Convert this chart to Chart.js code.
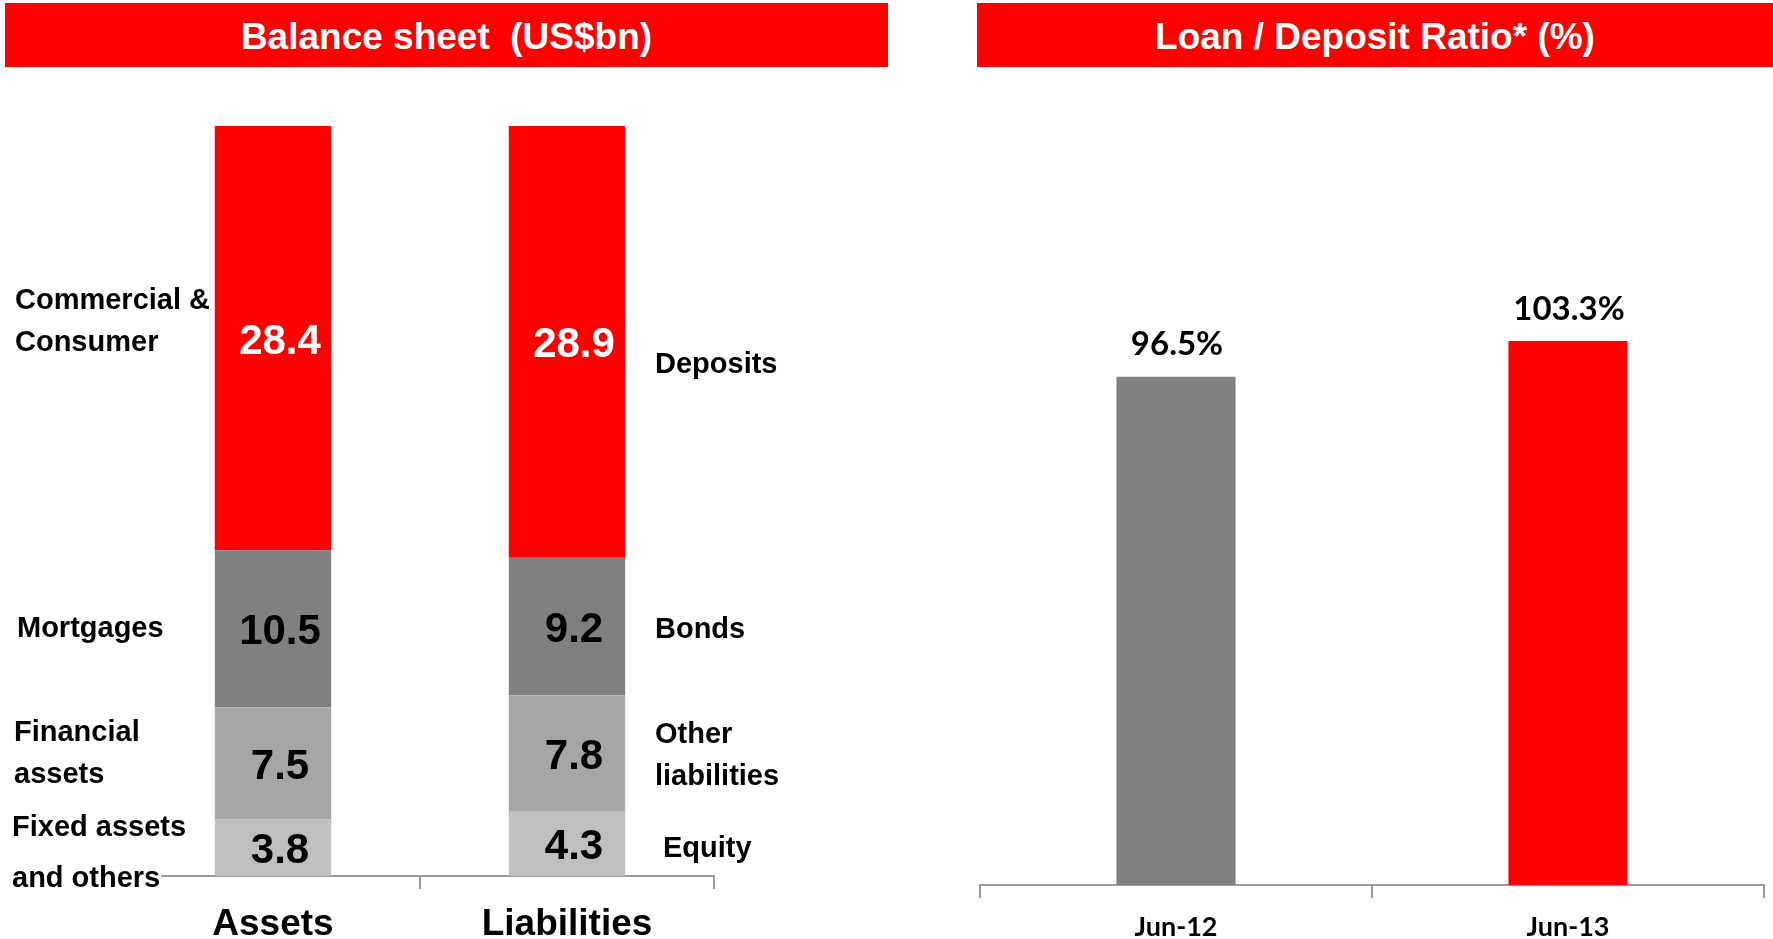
<!DOCTYPE html>
<html>
<head>
<meta charset="utf-8">
<script src="https://cdn.jsdelivr.net/npm/chart.js@4.4.1/dist/chart.umd.min.js"></script>
<style>
  html, body { margin: 0; padding: 0; background: #fff; width: 1773px; height: 939px; overflow: hidden; }
  .banner {
    position: absolute; top: 3px; height: 64px; padding-top: 3px; box-sizing: border-box;
    background: #ff0000; color: #fff;
    font: bold 37px "Liberation Sans", Arial, sans-serif;
    display: flex; align-items: center; justify-content: center; z-index: 2; white-space: pre;
  }
  #wrapL { position: absolute; left: 0; top: 0; width: 940px; height: 939px; }
  #wrapR { position: absolute; left: 940px; top: 0; width: 833px; height: 939px; }
</style>
</head>
<body>
<div class="banner" style="left:5px;width:883px;">Balance sheet  (US$bn)</div>
<div class="banner" style="left:977px;width:796px;">Loan / Deposit Ratio* (%)</div>
<div id="wrapL"><canvas id="bs" width="940" height="939"></canvas></div>
<div id="wrapR"><canvas id="ldr" width="833" height="939"></canvas></div>

<script>
// ---- data ----
const sides = ['Assets', 'Liabilities'];

// stacked bottom-up
const assetItems = [['Fixed assets', 'and others'], ['Financial', 'assets'], ['Mortgages'], ['Commercial &', 'Consumer']];
const assetValues = [3.8, 7.5, 10.5, 28.4];

const liabilityItems = [['Equity'], ['Other', 'liabilities'], ['Bonds'], ['Deposits']];
const liabilityValues = [4.3, 7.8, 9.2, 28.9];

const ratioPeriods = ['Jun-12', 'Jun-13'];
const ratioValues = [96.5, 103.3];

// ---- styling ----
const layerFill = ['#BFBFBF', '#A6A6A6', '#808080', '#FF0000'];
const layerInk = ['#000000', '#000000', '#000000', '#FFFFFF'];
const ratioFill = ['#808080', '#FF0000'];
const axisGrey = '#9a9a9a';
const ARIAL = '"Liberation Sans", Arial, sans-serif';
const CALIBRI = 'Lato, Carlito, Calibri, sans-serif';

// side caption placement: x anchor, vertical nudge from segment centre, line gap
const assetCaption = [
  { x: 12, dy: 5, gap: 51 },
  { x: 14, dy: -10, gap: 42 },
  { x: 17, dy: -1, gap: 0 },
  { x: 15, dy: -17, gap: 42 }
];
const liabilityCaption = [
  { x: 663, dy: 4, gap: 0 },
  { x: 655, dy: 2, gap: 42 },
  { x: 655, dy: 3, gap: 0 },
  { x: 655, dy: 22, gap: 0 }
];

const totalAssets = assetValues.reduce((a, b) => a + b, 0);
const totalLiabilities = liabilityValues.reduce((a, b) => a + b, 0);

// values written inside each stacked segment
const segmentValues = {
  id: 'segmentValues',
  afterDatasetsDraw(chart) {
    const ctx = chart.ctx;
    ctx.save();
    ctx.font = 'bold 42px ' + ARIAL;
    ctx.textAlign = 'center';
    ctx.textBaseline = 'middle';
    chart.data.datasets.forEach((ds, i) => {
      chart.getDatasetMeta(i).data.forEach((el, j) => {
        ctx.fillStyle = layerInk[i];
        ctx.fillText(ds.data[j].toFixed(1), el.x + 7, (el.y + el.base) / 2 + 4);
      });
    });
    ctx.restore();
  }
};

// item names beside the two stacks
const sideCaptions = {
  id: 'sideCaptions',
  afterDatasetsDraw(chart) {
    const ctx = chart.ctx;
    ctx.save();
    ctx.font = 'bold 29px ' + ARIAL;
    ctx.textAlign = 'left';
    ctx.textBaseline = 'middle';
    const draw = (lines, style, el) => {
      const mid = (el.y + el.base) / 2 + style.dy;
      const n = lines.length;
      lines.forEach((line, k) => {
        const y = mid + (k - (n - 1) / 2) * style.gap;
        const w = ctx.measureText(line).width;
        ctx.fillStyle = '#ffffff';
        ctx.fillRect(style.x - 1, y - 16, w + 2, 32);
        ctx.fillStyle = '#000000';
        ctx.fillText(line, style.x, y + 1);
      });
    };
    chart.data.datasets.forEach((ds, i) => {
      const els = chart.getDatasetMeta(i).data;
      draw(assetItems[i], assetCaption[i], els[0]);
      draw(liabilityItems[i], liabilityCaption[i], els[1]);
    });
    ctx.restore();
  }
};

new Chart(document.getElementById('bs'), {
  type: 'bar',
  data: {
    labels: sides,
    datasets: assetValues.map((v, i) => ({
      label: assetItems[i].join(' ') + ' / ' + liabilityItems[i].join(' '),
      data: [assetValues[i], liabilityValues[i]],
      backgroundColor: layerFill[i],
      borderWidth: 0,
      barPercentage: 0.396,
      categoryPercentage: 1
    }))
  },
  options: {
    responsive: false,
    animation: false,
    layout: { padding: { left: 126, right: 226, top: 126, bottom: 0 } },
    plugins: { legend: { display: false }, tooltip: { enabled: false } },
    scales: {
      x: {
        stacked: true,
        offset: true,
        grid: { display: true, drawOnChartArea: false, drawTicks: true, tickLength: 13, color: axisGrey, lineWidth: 2, offset: true },
        border: { display: true, color: axisGrey, width: 2 },
        ticks: { color: '#000', font: { family: ARIAL, size: 37, weight: 'bold' }, padding: 14, maxRotation: 0, autoSkip: false },
        afterFit(scale) { scale.height = 63; }
      },
      y: {
        stacked: true,
        display: false,
        min: 0,
        max: Math.max(totalAssets, totalLiabilities)
      }
    }
  },
  plugins: [segmentValues, sideCaptions]
});

// percentage labels above the ratio bars
const ratioValueLabels = {
  id: 'ratioValueLabels',
  afterDatasetsDraw(chart) {
    const ctx = chart.ctx;
    ctx.save();
    ctx.font = 'bold 33px ' + CALIBRI;
    ctx.textAlign = 'center';
    ctx.textBaseline = 'middle';
    ctx.fillStyle = '#000';
    const ds = chart.data.datasets[0];
    chart.getDatasetMeta(0).data.forEach((el, j) => {
      ctx.fillText(ds.data[j].toFixed(1) + '%', el.x + 1, el.y - 32);
    });
    ctx.restore();
  }
};

new Chart(document.getElementById('ldr'), {
  type: 'bar',
  data: {
    labels: ratioPeriods,
    datasets: [{
      label: 'Loan / Deposit Ratio',
      data: ratioValues,
      backgroundColor: ratioFill,
      borderWidth: 0,
      barPercentage: 0.304,
      categoryPercentage: 1
    }]
  },
  options: {
    responsive: false,
    animation: false,
    layout: { padding: { left: 40, right: 9, top: 253, bottom: 0 } },
    plugins: { legend: { display: false }, tooltip: { enabled: false } },
    scales: {
      x: {
        offset: true,
        grid: { display: true, drawOnChartArea: false, drawTicks: true, tickLength: 13, color: axisGrey, lineWidth: 2, offset: true },
        border: { display: true, color: axisGrey, width: 2 },
        ticks: { color: '#000', font: { family: CALIBRI, size: 27, weight: 'bold' }, padding: 13, maxRotation: 0, autoSkip: false },
        afterFit(scale) { scale.height = 54; }
      },
      y: { display: false, min: 0, max: 120 }
    }
  },
  plugins: [ratioValueLabels]
});
</script>
</body>
</html>
